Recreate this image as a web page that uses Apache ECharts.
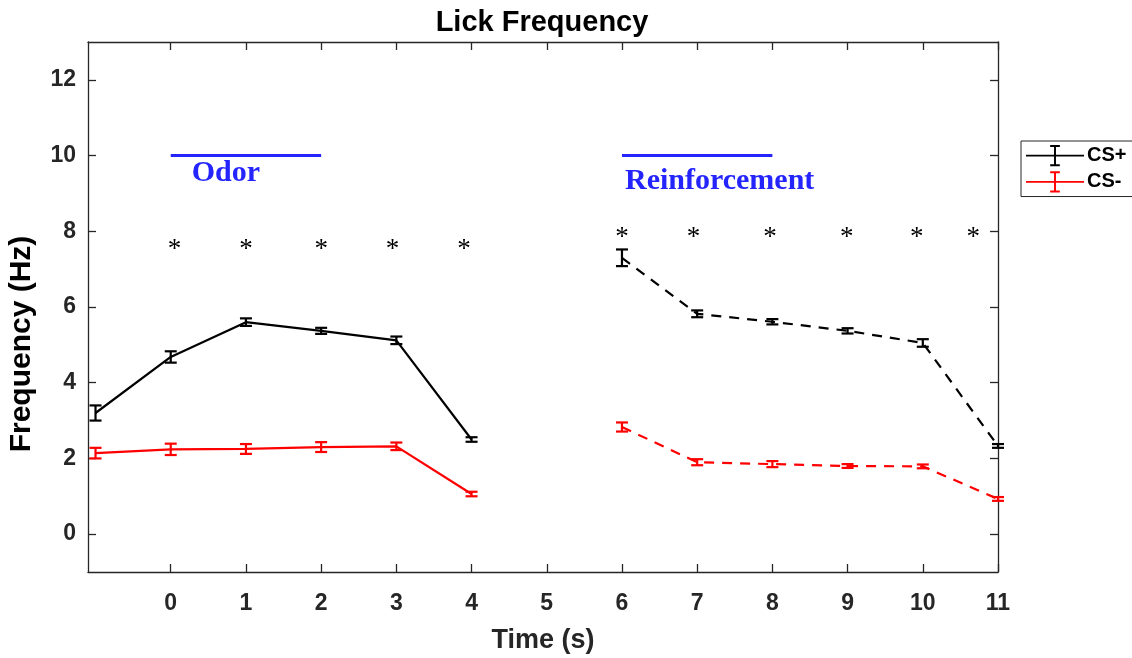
<!DOCTYPE html>
<html>
<head>
<meta charset="utf-8">
<title>Lick Frequency</title>
<script src="https://cdn.jsdelivr.net/npm/echarts@6/dist/echarts.min.js"></script>
<style>
  html, body { margin: 0; padding: 0; background: #ffffff; }
  #chart { width: 1132px; height: 658px; }
</style>
</head>
<body>
<div id="chart"></div>
<script>
// Time points (s): odor window and reinforcement window
const odorTimes = [-1, 0, 1, 2, 3, 4];
const reinfTimes = [6, 7, 8, 9, 10, 11];

// Mean lick frequency (Hz) and SEM, CS+ trials
const csPlusOdor = [3.2, 4.68, 5.6, 5.37, 5.12, 2.5];
const csPlusOdorErr = [0.2, 0.15, 0.1, 0.08, 0.1, 0.06];
const csPlusReinf = [7.3, 5.82, 5.61, 5.37, 5.05, 2.33];
const csPlusReinfErr = [0.22, 0.09, 0.07, 0.07, 0.1, 0.05];

// Mean lick frequency (Hz) and SEM, CS- trials
const csMinusOdor = [2.14, 2.24, 2.25, 2.3, 2.32, 1.06];
const csMinusOdorErr = [0.14, 0.15, 0.13, 0.13, 0.1, 0.06];
const csMinusReinf = [2.83, 1.9, 1.85, 1.8, 1.79, 0.93];
const csMinusReinfErr = [0.12, 0.08, 0.08, 0.05, 0.05, 0.05];

// Axis ticks
const xTicks = [0, 1, 2, 3, 4, 5, 6, 7, 8, 9, 10, 11];
const yTicks = [0, 2, 4, 6, 8, 10, 12];

// Significance markers (CS+ vs CS-)
const starTimesOdor = [0.05, 1, 2, 2.95, 3.9];
const starLevelOdor = 7.6;
const starTimesReinf = [6, 6.95, 7.97, 8.99, 9.92, 10.67];
const starLevelReinf = 7.9;

// Epoch bars
const epochNames = ['Odor', 'Reinforcement'];
const epochStart = [0, 6];
const epochEnd = [2, 8];
const epochLevel = [10, 10];
const epochLabelX = [0.28, 6.04];
const epochLabelY = [9.53, 9.31];

const AXIS_COLOR = '#262626';
const SANS = '"Liberation Sans", Arial, sans-serif';
const SERIF = '"Liberation Serif", "Times New Roman", serif';
const EPOCH_COLOR = '#2424ff';

const pairs = (xs, ys) => xs.map((x, i) => [x, ys[i]]);
const bars = (xs, ys, es) => xs.map((x, i) => [x, ys[i] - es[i], ys[i] + es[i]]);

// Legend glyph: line with a vertical error bar
const errorBarIcon = 'path://M0,10L60,10L60,12L0,12Z M29,0L31,0L31,22L29,22Z M25,0L35,0L35,2L25,2Z M25,20L35,20L35,22L25,22Z';

function renderErrorBar(params, api) {
  const x = api.value(0);
  const lo = api.coord([x, api.value(1)]);
  const hi = api.coord([x, api.value(2)]);
  const half = 6;
  const style = { stroke: api.visual('color'), lineWidth: 2.2, fill: null };
  return {
    type: 'group',
    children: [
      { type: 'line', shape: { x1: lo[0], y1: lo[1], x2: hi[0], y2: hi[1] }, style: style },
      { type: 'line', shape: { x1: lo[0] - half, y1: lo[1], x2: lo[0] + half, y2: lo[1] }, style: style },
      { type: 'line', shape: { x1: hi[0] - half, y1: hi[1], x2: hi[0] + half, y2: hi[1] }, style: style }
    ]
  };
}

function renderStar(params, api) {
  const p = api.coord([api.value(0), api.value(1)]);
  return {
    type: 'text',
    x: p[0],
    y: p[1] + 3,
    style: {
      text: '*',
      font: '27px ' + SERIF,
      fill: '#000000',
      align: 'center',
      verticalAlign: 'middle'
    }
  };
}

function renderEpoch(params, api) {
  const a = api.coord([api.value(0), api.value(2)]);
  const b = api.coord([api.value(1), api.value(2)]);
  const t = api.coord([api.value(3), api.value(4)]);
  return {
    type: 'group',
    children: [
      { type: 'line', shape: { x1: a[0], y1: a[1], x2: b[0], y2: b[1] },
        style: { stroke: EPOCH_COLOR, lineWidth: 3 } },
      { type: 'text', x: t[0], y: t[1],
        style: { text: epochNames[params.dataIndex], font: 'bold 30px ' + SERIF,
                 fill: EPOCH_COLOR, align: 'left', verticalAlign: 'middle' } }
    ]
  };
}

const tickLabelStyle = {
  fontFamily: SANS, fontWeight: 'bold', fontSize: 23, color: AXIS_COLOR
};

const chart = echarts.init(document.getElementById('chart'), null, { renderer: 'canvas' });

chart.setOption({
  backgroundColor: '#ffffff',
  animation: false,
  title: {
    text: 'Lick Frequency',
    left: 537,
    top: 3,
    textAlign: 'center',
    textStyle: { fontFamily: SANS, fontWeight: 'bold', fontSize: 29, color: '#000000' }
  },
  legend: {
    orient: 'vertical',
    left: 1021,
    top: 141,
    data: [
      { name: 'CS+', icon: errorBarIcon },
      { name: 'CS-', icon: errorBarIcon }
    ],
    itemWidth: 58,
    itemHeight: 22,
    itemGap: 5,
    padding: [4, 40, 4, 5],
    borderColor: AXIS_COLOR,
    borderWidth: 1,
    borderRadius: 0,
    backgroundColor: '#ffffff',
    selectedMode: false,
    itemStyle: { borderWidth: 0 },
    textStyle: { fontFamily: SANS, fontWeight: 'bold', fontSize: 20, color: '#000000', padding: [0, 0, 0, -2] }
  },
  grid: {
    left: 88, right: 134, top: 42, bottom: 86,
    containLabel: false,
    outerBoundsMode: 'none'
  },
  xAxis: [
    {
      type: 'value', min: -1.1, max: 11, position: 'bottom',
      axisLine: { show: true, onZero: false, lineStyle: { color: AXIS_COLOR, width: 1.3 } },
      axisTick: { show: true, inside: true, length: 8, customValues: xTicks,
                  lineStyle: { color: AXIS_COLOR, width: 1.3 } },
      axisLabel: Object.assign({ customValues: xTicks, margin: 20 }, tickLabelStyle),
      splitLine: { show: false },
      name: 'Time (s)',
      nameLocation: 'middle',
      nameGap: 55,
      nameTextStyle: { fontFamily: SANS, fontWeight: 'bold', fontSize: 27, color: AXIS_COLOR }
    },
    {
      type: 'value', min: -1.1, max: 11, position: 'top',
      axisLine: { show: true, onZero: false, lineStyle: { color: AXIS_COLOR, width: 1.3 } },
      axisTick: { show: true, inside: true, length: 8, customValues: xTicks,
                  lineStyle: { color: AXIS_COLOR, width: 1.3 } },
      axisLabel: { show: false },
      splitLine: { show: false }
    }
  ],
  yAxis: [
    {
      type: 'value', min: -1, max: 13, position: 'left',
      axisLine: { show: true, onZero: false, lineStyle: { color: AXIS_COLOR, width: 1.3 } },
      axisTick: { show: true, inside: true, length: 8, customValues: yTicks,
                  lineStyle: { color: AXIS_COLOR, width: 1.3 } },
      axisLabel: Object.assign({ customValues: yTicks, margin: 12 }, tickLabelStyle),
      splitLine: { show: false }
    },
    {
      type: 'value', min: -1, max: 13, position: 'right',
      axisLine: { show: true, onZero: false, lineStyle: { color: AXIS_COLOR, width: 1.3 } },
      axisTick: { show: true, inside: true, length: 8, customValues: yTicks,
                  lineStyle: { color: AXIS_COLOR, width: 1.3 } },
      axisLabel: { show: false },
      splitLine: { show: false }
    }
  ],
  graphic: [
    {
      type: 'text',
      x: 22, y: 344,
      rotation: Math.PI / 2,
      style: {
        text: 'Frequency (Hz)',
        font: 'bold 30px ' + SANS,
        fill: '#000000',
        align: 'center',
        verticalAlign: 'middle'
      }
    }
  ],
  series: [
    {
      name: 'CS+', type: 'line', data: pairs(odorTimes, csPlusOdor),
      symbol: 'none', color: '#000000',
      lineStyle: { color: '#000000', width: 2.2, type: 'solid' }, z: 3
    },
    {
      name: 'CS+', type: 'line', data: pairs(reinfTimes, csPlusReinf),
      symbol: 'none', color: '#000000',
      lineStyle: { color: '#000000', width: 2.2, type: [10, 8] }, z: 3
    },
    {
      name: 'CS-', type: 'line', data: pairs(odorTimes, csMinusOdor),
      symbol: 'none', color: '#ff0000',
      lineStyle: { color: '#ff0000', width: 2.2, type: 'solid' }, z: 3
    },
    {
      name: 'CS-', type: 'line', data: pairs(reinfTimes, csMinusReinf),
      symbol: 'none', color: '#ff0000',
      lineStyle: { color: '#ff0000', width: 2.2, type: [10, 8] }, z: 3
    },
    {
      name: 'CS+', type: 'custom', renderItem: renderErrorBar,
      itemStyle: { color: '#000000' },
      encode: { x: 0, y: [1, 2] },
      data: bars(odorTimes, csPlusOdor, csPlusOdorErr).concat(bars(reinfTimes, csPlusReinf, csPlusReinfErr)),
      z: 4
    },
    {
      name: 'CS-', type: 'custom', renderItem: renderErrorBar,
      itemStyle: { color: '#ff0000' },
      encode: { x: 0, y: [1, 2] },
      data: bars(odorTimes, csMinusOdor, csMinusOdorErr).concat(bars(reinfTimes, csMinusReinf, csMinusReinfErr)),
      z: 4
    },
    {
      name: 'significance', type: 'custom', renderItem: renderStar,
      encode: { x: 0, y: 1 },
      data: starTimesOdor.map(t => [t, starLevelOdor]).concat(starTimesReinf.map(t => [t, starLevelReinf])),
      z: 5
    },
    {
      name: 'epochs', type: 'custom', renderItem: renderEpoch,
      encode: { x: [0, 1, 3], y: [2, 4] },
      data: epochStart.map((s, i) => [s, epochEnd[i], epochLevel[i], epochLabelX[i], epochLabelY[i]]),
      z: 5
    }
  ]
});
</script>
</body>
</html>
